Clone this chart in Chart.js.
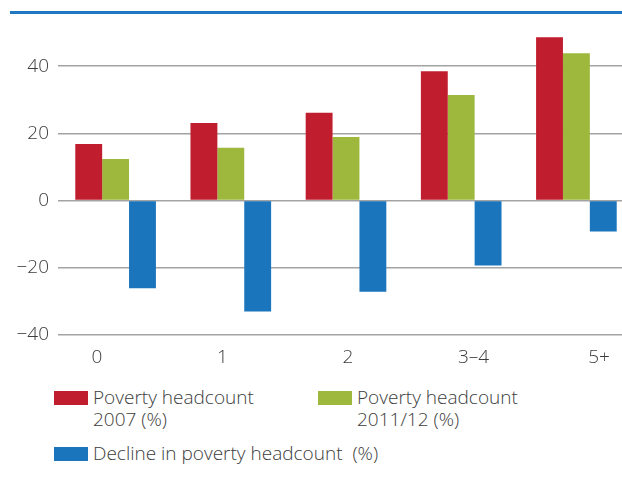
<!DOCTYPE html>
<html>
<head>
<meta charset="utf-8">
<script src="https://cdn.jsdelivr.net/npm/chart.js@4"></script>
<style>
  html, body { margin: 0; padding: 0; background: #fff; overflow: hidden; width: 622px; height: 486px; }
  #topline { position: absolute; left: 10px; top: 11px; width: 612px; height: 3px; background: #1f78c1; }
  #wrap { position: absolute; left: 0; top: 0; width: 634px; height: 370px; }
  .lg { position: absolute; font-family: "Open Sans", sans-serif; font-weight: 300; font-size: 19px; line-height: 22px; color: #3c3c3c; }
  .box { position: absolute; width: 34px; height: 14px; }
</style>
</head>
<body>
<div id="topline"></div>
<div id="wrap"><canvas id="myChart"></canvas></div>
<div class="box" style="left:54px;top:391px;background:#c01e2e"></div>
<div class="lg" style="left:93px;top:386px">Poverty headcount<br>2007 (%)</div>
<div class="box" style="left:318px;top:391px;background:#9db83d"></div>
<div class="lg" style="left:357px;top:386px">Poverty headcount<br>2011/12 (%)</div>
<div class="box" style="left:54px;top:447px;background:#1b75bc"></div>
<div class="lg" style="left:93px;top:442px">Decline in poverty headcount&nbsp; (%)</div>
<script>
const categories = ['0', '1', '2', '3–4', '5+'];
const headcount2007 = [16.8, 23.1, 26.1, 38.5, 48.6];
const headcount2011 = [12.4, 15.7, 18.9, 31.4, 43.8];
const decline = [-26.1, -33.0, -27.1, -19.3, -9.2];
const yTicks = [-40, -20, 0, 20, 40];

const data = {
  labels: categories,
  datasets: [{
    label: 'Poverty headcount 2007 (%)',
    backgroundColor: '#c01e2e',
    data: headcount2007,
  },
  {
    label: 'Poverty headcount 2011/12 (%)',
    backgroundColor: '#9db83d',
    data: headcount2011,
  },
  {
    label: 'Decline in poverty headcount (%)',
    backgroundColor: '#1b75bc',
    data: decline,
  }]
};

const config = {
  type: 'bar',
  data: data,
  options: {
    responsive: true,
    maintainAspectRatio: false,
    animation: false,
    layout: { padding: { top: 32.5, left: 0, right: 0, bottom: 0 } },
    datasets: { bar: { categoryPercentage: 0.7, barPercentage: 1.0 } },
    plugins: { legend: { display: false }, tooltip: { enabled: false } },
    scales: {
      x: { display: false },
      // label axis: the tick labels sit on a slightly wider spacing than the bar groups
      x2: {
        type: 'linear',
        position: 'bottom',
        offset: false,
        min: -0.311,
        max: 4.279,
        afterBuildTicks: s => { s.ticks = categories.map((c, i) => ({ value: i })); },
        afterFit: s => { s.height = 35; },
        grid: { display: false },
        border: { display: false },
        ticks: {
          padding: 3,
          color: '#3c3c3c',
          font: { family: 'Open Sans', size: 19, weight: 300 },
          callback: v => categories[v]
        }
      },
      y: {
        min: -40,
        max: 50,
        afterBuildTicks: s => { s.ticks = yTicks.map(v => ({ value: v })); },
        afterFit: s => { s.width = 58; },
        border: { display: false },
        grid: { color: '#a3a3a3', lineWidth: 1.5, drawTicks: false },
        ticks: {
          padding: 9,
          color: '#3c3c3c',
          font: { family: 'Open Sans', size: 19, weight: 300 },
          callback: v => v < 0 ? '\u2212' + Math.abs(v) : String(v)
        }
      }
    }
  }
};

var myChart = new Chart(document.getElementById('myChart'), config);
</script>
</body>
</html>
